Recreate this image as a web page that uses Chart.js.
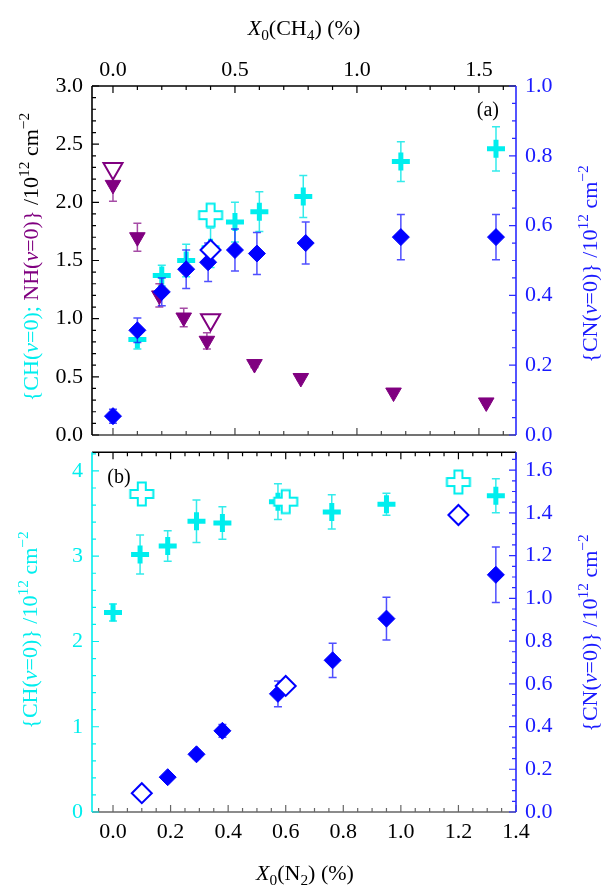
<!DOCTYPE html>
<html><head><meta charset="utf-8">
<script src="https://cdn.jsdelivr.net/npm/chart.js@4.4.1/dist/chart.umd.min.js"></script>
<style>
html,body{margin:0;padding:0;background:#fff;}
#wrap{position:relative;width:601px;height:890px;overflow:hidden;background:#fff;}
canvas{position:absolute;left:0;}
#c1{top:0;}
#c2{top:430px;}
</style></head><body>
<div id="wrap">
<canvas id="c1" width="601" height="460"></canvas>
<canvas id="c2" width="601" height="460"></canvas>
</div>
<script>
// ---------- Panel (a): versus X0(CH4) (%) ----------
const aXTickValues = [0.0, 0.5, 1.0, 1.5];
const aXTickLabels = ['0.0', '0.5', '1.0', '1.5'];
const aYLTickValues = [0, 0.5, 1.0, 1.5, 2.0, 2.5, 3.0];
const aYLTickLabels = ['0.0', '0.5', '1.0', '1.5', '2.0', '2.5', '3.0'];
const aYRTickValues = [0, 0.2, 0.4, 0.6, 0.8, 1.0];
const aYRTickLabels = ['0.0', '0.2', '0.4', '0.6', '0.8', '1.0'];

// CH(v=0) (left axis)
const chA_x   = [0.10, 0.20, 0.30, 0.40, 0.50, 0.60, 0.78, 1.18, 1.57];
const chA_y   = [0.82, 1.37, 1.50, 1.61, 1.83, 1.92, 2.05, 2.35, 2.46];
const chA_err = [0.08, 0.09, 0.14, 0.17, 0.17, 0.17, 0.18, 0.17, 0.19];
const chOpenA_x = [0.40];
const chOpenA_y = [1.89];
// NH(v=0) (left axis)
const nhA_x   = [0.00, 0.10, 0.19, 0.29, 0.385, 0.58, 0.77, 1.15, 1.53];
const nhA_y   = [2.15, 1.70, 1.20, 1.01, 0.81, 0.61, 0.49, 0.365, 0.28];
const nhA_err = [0.14, 0.12, 0.10, 0.08, 0.07, 0.03, 0.02, 0.01, 0.02];
const nhOpenA_x = [0.00, 0.40];
const nhOpenA_y = [2.29, 0.99];
// CN(v=0) (right axis)
const cnA_x   = [0.00, 0.10, 0.20, 0.30, 0.39, 0.50, 0.59, 0.79, 1.18, 1.57];
const cnA_y   = [0.054, 0.30, 0.41, 0.475, 0.495, 0.53, 0.52, 0.55, 0.567, 0.567];
const cnA_err = [0.02, 0.035, 0.04, 0.055, 0.055, 0.06, 0.06, 0.06, 0.065, 0.065];
const cnOpenA_x = [0.40];
const cnOpenA_y = [0.53];

// ---------- Panel (b): versus X0(N2) (%) ----------
const bXTickValues = [0, 0.2, 0.4, 0.6, 0.8, 1.0, 1.2, 1.4];
const bXTickLabels = ['0.0', '0.2', '0.4', '0.6', '0.8', '1.0', '1.2', '1.4'];
const bYLTickValues = [0, 1, 2, 3, 4];
const bYLTickLabels = ['0', '1', '2', '3', '4'];
const bYRTickValues = [0, 0.2, 0.4, 0.6, 0.8, 1.0, 1.2, 1.4, 1.6];
const bYRTickLabels = ['0.0', '0.2', '0.4', '0.6', '0.8', '1.0', '1.2', '1.4', '1.6'];

const chB_x   = [0.00, 0.094, 0.19, 0.29, 0.38, 0.573, 0.76, 0.95, 1.33];
const chB_y   = [2.34, 3.02, 3.12, 3.41, 3.39, 3.64, 3.52, 3.61, 3.71];
const chB_err = [0.10, 0.23, 0.18, 0.25, 0.19, 0.21, 0.20, 0.13, 0.20];
const chOpenB_x = [0.10, 0.60, 1.20];
const chOpenB_y = [3.73, 3.64, 3.87];

const cnB_x   = [0.19, 0.29, 0.38, 0.573, 0.763, 0.95, 1.33];
const cnB_y   = [0.163, 0.27, 0.38, 0.553, 0.71, 0.905, 1.11];
const cnB_err = [0.01, 0.02, 0.03, 0.06, 0.08, 0.10, 0.13];
const cnOpenB_x = [0.10, 0.60, 1.20];
const cnOpenB_y = [0.088, 0.59, 1.39];

// ---------- styling ----------
const FONT = '"Liberation Serif", "Times New Roman", serif';
const CYAN = '#00eeee', BLUE = '#0000ff', PURPLE = '#800080', BLACK = '#000000';
const TXT_BLUE = '#1a1aff';

const pts = (xs, ys) => xs.map((x, i) => ({x: x, y: ys[i]}));
const labelFrom = (vals, labs) => function (v) {
  const i = vals.findIndex(t => Math.abs(t - v) < 1e-6);
  return i >= 0 ? labs[i] : '';
};

function hollowPlus(color) {
  const c = document.createElement('canvas');
  c.width = 28; c.height = 28;
  const g = c.getContext('2d');
  const m = 14, L = 11.5, t = 4;
  g.beginPath();
  g.moveTo(m - t, m - L); g.lineTo(m + t, m - L); g.lineTo(m + t, m - t);
  g.lineTo(m + L, m - t); g.lineTo(m + L, m + t); g.lineTo(m + t, m + t);
  g.lineTo(m + t, m + L); g.lineTo(m - t, m + L); g.lineTo(m - t, m + t);
  g.lineTo(m - L, m + t); g.lineTo(m - L, m - t); g.lineTo(m - t, m - t);
  g.closePath();
  g.fillStyle = '#fff'; g.fill();
  g.lineWidth = 2; g.strokeStyle = color; g.stroke();
  return c;
}
const openPlus = hollowPlus(CYAN);

function drawRich(ctx, segs, x, y, rot, size) {
  ctx.save();
  ctx.translate(x, y);
  ctx.rotate(rot);
  let total = 0;
  const ms = segs.map(s => {
    const fs = s.s ? size * 0.7 : size;
    const font = (s.i ? 'italic ' : '') + fs + 'px ' + FONT;
    ctx.font = font;
    const w = ctx.measureText(s.t).width;
    total += w;
    return {font: font, w: w};
  });
  let cx = -total / 2;
  ctx.textBaseline = 'alphabetic';
  ctx.textAlign = 'left';
  segs.forEach((s, i) => {
    ctx.font = ms[i].font;
    ctx.fillStyle = s.c;
    let dy = 0;
    if (s.s === 'sub') dy = size * 0.22;
    if (s.s === 'sup') dy = -size * 0.42;
    ctx.fillText(s.t, cx, dy);
    cx += ms[i].w;
  });
  ctx.restore();
}

function drawErrors(chart, args) {
  const ds = chart.data.datasets[args.index];
  if (!ds.err) return;
  const ctx = chart.ctx;
  const ys = chart.scales[ds.yAxisID];
  ctx.save();
  ctx.strokeStyle = ds.errColor;
  ctx.lineWidth = 1.5;
  args.meta.data.forEach((pt, i) => {
    const e = ds.err[i];
    if (!e) return;
    const v = ds.data[i].y;
    const y1 = ys.getPixelForValue(v + e), y2 = ys.getPixelForValue(v - e);
    ctx.beginPath();
    ctx.moveTo(pt.x, y1); ctx.lineTo(pt.x, y2);
    ctx.moveTo(pt.x - 4, y1); ctx.lineTo(pt.x + 4, y1);
    ctx.moveTo(pt.x - 4, y2); ctx.lineTo(pt.x + 4, y2);
    ctx.stroke();
  });
  ctx.restore();
}

function drawFrame(chart, sides) {
  const {left, right, top, bottom} = chart.chartArea;
  const ctx = chart.ctx;
  sides.forEach(sd => {
    const sc = chart.scales[sd.scale];
    ctx.save();
    ctx.strokeStyle = sd.color;
    ctx.lineWidth = 1.6;
    ctx.beginPath();
    if (sd.side === 'top') { ctx.moveTo(left, top); ctx.lineTo(right, top); }
    if (sd.side === 'bottom') { ctx.moveTo(left, bottom); ctx.lineTo(right, bottom); }
    if (sd.side === 'left') { ctx.moveTo(left, top); ctx.lineTo(left, bottom); }
    if (sd.side === 'right') { ctx.moveTo(right, top); ctx.lineTo(right, bottom); }
    ctx.stroke();
    ctx.lineWidth = 1.2;
    ctx.beginPath();
    sc.ticks.forEach(t => {
      const p = sc.getPixelForValue(t.value);
      const len = (t.label !== '' && t.label !== undefined) ? 7 : 4;
      if (sd.side === 'top') { ctx.moveTo(p, top); ctx.lineTo(p, top + len); }
      if (sd.side === 'bottom') { ctx.moveTo(p, bottom); ctx.lineTo(p, bottom - len); }
      if (sd.side === 'left') { ctx.moveTo(left, p); ctx.lineTo(left + len, p); }
      if (sd.side === 'right') { ctx.moveTo(right, p); ctx.lineTo(right - len, p); }
    });
    ctx.stroke();
    ctx.restore();
  });
}

const tickFont = {family: FONT, size: 22};
function xScale(pos, min, max, step, vals, labs, pad, h) {
  return {
    type: 'linear', position: pos, min: min, max: max,
    grid: {display: false, drawTicks: false}, border: {display: false},
    ticks: {stepSize: step, autoSkip: false, includeBounds: false, maxRotation: 0, minRotation: 0,
      padding: pad, font: tickFont, color: BLACK, callback: labelFrom(vals, labs)},
    afterFit: s => { s.height = h; }
  };
}
function yScale(pos, min, max, step, vals, labs, color, w) {
  return {
    type: 'linear', position: pos, min: min, max: max,
    grid: {display: false, drawTicks: false}, border: {display: false},
    ticks: {stepSize: step, autoSkip: false, includeBounds: false, padding: 9,
      font: tickFont, color: color, callback: labelFrom(vals, labs)},
    afterFit: s => { s.width = w; }
  };
}
const baseOpts = {
  responsive: false, animation: false, events: [],
  plugins: {legend: {display: false}, tooltip: {enabled: false}}
};

// ---------- chart (a) ----------
const decorA = {
  id: 'decorA',
  beforeDatasetDraw: drawErrors,
  afterDraw(chart) {
    drawFrame(chart, [
      {side: 'top', scale: 'x', color: BLACK},
      {side: 'bottom', scale: 'x', color: '#444'},
      {side: 'left', scale: 'yL', color: BLACK},
      {side: 'right', scale: 'yR', color: '#2a2aff'}
    ]);
    const ctx = chart.ctx;
    drawRich(ctx, [{t: 'X', i: 1, c: BLACK}, {t: '0', s: 'sub', c: BLACK}, {t: '(CH', c: BLACK},
      {t: '4', s: 'sub', c: BLACK}, {t: ') (%)', c: BLACK}], 304, 35, 0, 22);
    drawRich(ctx, [{t: '{CH(', c: CYAN}, {t: 'v', i: 1, c: CYAN}, {t: '=0); ', c: CYAN},
      {t: 'NH(', c: PURPLE}, {t: 'v', i: 1, c: PURPLE}, {t: '=0)}', c: PURPLE},
      {t: ' /10', c: BLACK}, {t: '12', s: 'sup', c: BLACK}, {t: ' cm', c: BLACK}, {t: '\u22122', s: 'sup', c: BLACK}],
      38, 257, -Math.PI / 2, 22);
    drawRich(ctx, [{t: '{CN(', c: TXT_BLUE}, {t: 'v', i: 1, c: TXT_BLUE}, {t: '=0)} /10', c: TXT_BLUE},
      {t: '12', s: 'sup', c: TXT_BLUE}, {t: ' cm', c: TXT_BLUE}, {t: '\u22122', s: 'sup', c: TXT_BLUE}],
      597, 264, -Math.PI / 2, 22);
    ctx.save();
    ctx.font = '20px ' + FONT; ctx.fillStyle = BLACK; ctx.textAlign = 'right'; ctx.textBaseline = 'middle';
    ctx.fillText('(a)', 499, 111);
    ctx.restore();
  }
};

new Chart(document.getElementById('c1'), {
  type: 'scatter',
  data: {datasets: [
    {label: 'CH(v=0)', data: pts(chA_x, chA_y), err: chA_err, errColor: 'rgba(0,230,230,0.8)',
      xAxisID: 'x', yAxisID: 'yL', order: 6, pointStyle: 'cross', pointRadius: 9, pointBorderWidth: 5,
      pointBorderColor: CYAN, pointBackgroundColor: CYAN},
    {label: 'CH(v=0) open', data: pts(chOpenA_x, chOpenA_y),
      xAxisID: 'x', yAxisID: 'yL', order: 5, pointStyle: openPlus, pointRadius: 12},
    {label: 'NH(v=0)', data: pts(nhA_x, nhA_y), err: nhA_err, errColor: 'rgba(128,0,128,0.7)',
      xAxisID: 'x', yAxisID: 'yL', order: 4, pointStyle: 'triangle', pointRotation: 180, pointRadius: 9,
      pointBorderWidth: 1, pointBorderColor: PURPLE, pointBackgroundColor: PURPLE},
    {label: 'NH(v=0) open', data: pts(nhOpenA_x, nhOpenA_y),
      xAxisID: 'x', yAxisID: 'yL', order: 3, pointStyle: 'triangle', pointRotation: 180, pointRadius: 11,
      pointBorderWidth: 2, pointBorderColor: PURPLE, pointBackgroundColor: '#fff'},
    {label: 'CN(v=0)', data: pts(cnA_x, cnA_y), err: cnA_err, errColor: 'rgba(20,20,255,0.75)',
      xAxisID: 'x', yAxisID: 'yR', order: 2, pointStyle: 'rectRot', pointRadius: 8.5,
      pointBorderWidth: 1, pointBorderColor: BLUE, pointBackgroundColor: BLUE},
    {label: 'CN(v=0) open', data: pts(cnOpenA_x, cnOpenA_y),
      xAxisID: 'x', yAxisID: 'yR', order: 1, pointStyle: 'rectRot', pointRadius: 10,
      pointBorderWidth: 2, pointBorderColor: BLUE, pointBackgroundColor: '#fff'}
  ]},
  options: Object.assign({}, baseOpts, {
    layout: {padding: {top: 0, left: 0, right: 0, bottom: 25}},
    scales: {
      x: xScale('top', -0.086, 1.652, 0.1, aXTickValues, aXTickLabels, 3, 86),
      yL: yScale('left', 0, 3, 0.1, aYLTickValues, aYLTickLabels, BLACK, 92),
      yR: yScale('right', 0, 1, 0.05, aYRTickValues, aYRTickLabels, TXT_BLUE, 85)
    }
  }),
  plugins: [decorA]
});

// ---------- chart (b) ----------
const decorB = {
  id: 'decorB',
  beforeDatasetDraw: drawErrors,
  afterDraw(chart) {
    drawFrame(chart, [
      {side: 'top', scale: 'x', color: BLACK},
      {side: 'bottom', scale: 'x', color: '#666'},
      {side: 'left', scale: 'yL', color: CYAN},
      {side: 'right', scale: 'yR', color: '#2a2aff'}
    ]);
    const ctx = chart.ctx;
    drawRich(ctx, [{t: 'X', i: 1, c: BLACK}, {t: '0', s: 'sub', c: BLACK}, {t: '(N', c: BLACK},
      {t: '2', s: 'sub', c: BLACK}, {t: ') (%)', c: BLACK}], 305, 450, 0, 22);
    drawRich(ctx, [{t: '{CH(', c: CYAN}, {t: 'v', i: 1, c: CYAN}, {t: '=0)} /10', c: CYAN},
      {t: '12', s: 'sup', c: CYAN}, {t: ' cm', c: CYAN}, {t: '\u22122', s: 'sup', c: CYAN}],
      37, 200, -Math.PI / 2, 22);
    drawRich(ctx, [{t: '{CN(', c: TXT_BLUE}, {t: 'v', i: 1, c: TXT_BLUE}, {t: '=0)} /10', c: TXT_BLUE},
      {t: '12', s: 'sup', c: TXT_BLUE}, {t: ' cm', c: TXT_BLUE}, {t: '\u22122', s: 'sup', c: TXT_BLUE}],
      597, 203, -Math.PI / 2, 22);
    ctx.save();
    ctx.font = '20px ' + FONT; ctx.fillStyle = BLACK; ctx.textAlign = 'center'; ctx.textBaseline = 'middle';
    ctx.fillText('(b)', 119, 48);
    ctx.restore();
  }
};

new Chart(document.getElementById('c2'), {
  type: 'scatter',
  data: {datasets: [
    {label: 'CH(v=0)', data: pts(chB_x, chB_y), err: chB_err, errColor: 'rgba(0,230,230,0.8)',
      xAxisID: 'x', yAxisID: 'yL', order: 6, pointStyle: 'cross', pointRadius: 9, pointBorderWidth: 5,
      pointBorderColor: CYAN, pointBackgroundColor: CYAN},
    {label: 'CH(v=0) open', data: pts(chOpenB_x, chOpenB_y),
      xAxisID: 'x', yAxisID: 'yL', order: 5, pointStyle: openPlus, pointRadius: 12},
    {label: 'CN(v=0)', data: pts(cnB_x, cnB_y), err: cnB_err, errColor: 'rgba(20,20,255,0.75)',
      xAxisID: 'x', yAxisID: 'yR', order: 2, pointStyle: 'rectRot', pointRadius: 8.5,
      pointBorderWidth: 1, pointBorderColor: BLUE, pointBackgroundColor: BLUE},
    {label: 'CN(v=0) open', data: pts(cnOpenB_x, cnOpenB_y),
      xAxisID: 'x', yAxisID: 'yR', order: 1, pointStyle: 'rectRot', pointRadius: 10,
      pointBorderWidth: 2, pointBorderColor: BLUE, pointBackgroundColor: '#fff'}
  ]},
  options: Object.assign({}, baseOpts, {
    layout: {padding: {top: 20, left: 0, right: 0, bottom: 0}},
    scales: {
      x: xScale('bottom', -0.073, 1.4, 0.05, bXTickValues, bXTickLabels, 7, 78),
      yL: yScale('left', 0, 4.22, 0.2, bYLTickValues, bYLTickLabels, CYAN, 92),
      yR: yScale('right', 0, 1.684, 0.05, bYRTickValues, bYRTickLabels, TXT_BLUE, 85)
    }
  }),
  plugins: [decorB]
});
</script>
</body></html>
